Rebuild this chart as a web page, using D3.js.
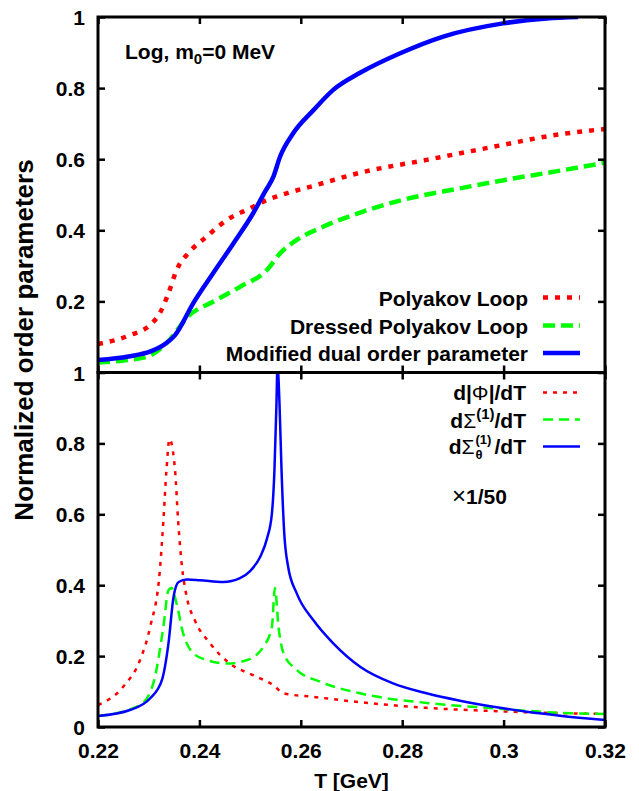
<!DOCTYPE html>
<html><head><meta charset="utf-8">
<script src="https://cdn.jsdelivr.net/npm/d3@7"></script>
<style>
html,body{margin:0;padding:0;background:#fff;}
text{font-family:"Liberation Sans",Arial,Helvetica,sans-serif;font-weight:bold;fill:#000;}
</style></head>
<body><svg id="c" width="639" height="791"></svg>
<script>
// ---------- data ----------
const xTicks = [0.22, 0.24, 0.26, 0.28, 0.30, 0.32];
const xTickLabels = ["0.22", "0.24", "0.26", "0.28", "0.3", "0.32"];
const topYTicks = [0.2, 0.4, 0.6, 0.8, 1];
const topYTickLabels = ["0.2", "0.4", "0.6", "0.8", "1"];
const botYTicks = [0, 0.2, 0.4, 0.6, 0.8, 1];
const botYTickLabels = ["0", "0.2", "0.4", "0.6", "0.8", "1"];

// top panel
const plT = [0.22,0.2263,0.2303,0.2322,0.2339,0.2355,0.2381,0.2414,0.2454,0.25,0.2533,0.2572,0.2625,0.2717,0.2848,0.298,0.3111,0.32];
const plV = [0.08,0.105,0.134,0.167,0.223,0.288,0.34,0.382,0.429,0.462,0.485,0.504,0.525,0.562,0.598,0.635,0.67,0.685];
const dplT = [0.22,0.225,0.2296,0.2335,0.2381,0.2427,0.248,0.2533,0.2559,0.2592,0.2644,0.2717,0.2802,0.2914,0.30,0.31,0.32];
const dplV = [0.028,0.034,0.044,0.082,0.162,0.199,0.241,0.288,0.335,0.373,0.41,0.45,0.486,0.518,0.541,0.565,0.59];
const mdT = [0.22,0.226,0.2305,0.2329,0.2352,0.2388,0.2427,0.2467,0.2506,0.253,0.2546,0.2559,0.2585,0.2625,0.2664,0.2717,0.2796,0.2881,0.2999,0.3085,0.3147];
const mdV = [0.035,0.045,0.06,0.077,0.105,0.195,0.279,0.363,0.448,0.51,0.551,0.607,0.673,0.738,0.795,0.843,0.898,0.945,0.982,0.996,1.0];

// bottom panel
const dPhiT = [0.22,0.225,0.2283,0.2303,0.2322,0.2329,0.2335,0.2341,0.2352,0.2358,0.2365,0.2375,0.2391,0.2421,0.246,0.2506,0.2546,0.2566,0.2625,0.2717,0.2848,0.298,0.3111,0.32];
const dPhiV = [0.062,0.114,0.189,0.283,0.442,0.583,0.724,0.812,0.724,0.583,0.461,0.367,0.301,0.236,0.179,0.146,0.118,0.095,0.085,0.07,0.054,0.045,0.039,0.037];
const dSigT = [0.22,0.2283,0.2309,0.2329,0.2339,0.2345,0.2355,0.2368,0.2388,0.2414,0.2454,0.2494,0.2526,0.2543,0.2549,0.2556,0.2566,0.2592,0.2638,0.2717,0.2848,0.298,0.3111,0.32];
const dSigV = [0.031,0.062,0.123,0.283,0.386,0.392,0.348,0.264,0.208,0.189,0.179,0.189,0.226,0.283,0.392,0.283,0.208,0.161,0.128,0.095,0.068,0.053,0.04,0.037];
const dSigThT = [0.22,0.2263,0.2303,0.2326,0.2339,0.2349,0.2359,0.2375,0.2401,0.2447,0.248,0.25,0.252,0.2533,0.2543,0.2548,0.2552,0.2554,0.2558,0.2562,0.2567,0.2575,0.2592,0.2625,0.2664,0.2717,0.2782,0.2848,0.2914,0.298,0.3046,0.3111,0.32];
const dSigThV = [0.031,0.048,0.081,0.132,0.236,0.367,0.409,0.416,0.414,0.409,0.42,0.44,0.48,0.53,0.602,0.724,0.912,1.02,0.912,0.724,0.555,0.452,0.377,0.301,0.236,0.17,0.123,0.095,0.074,0.057,0.043,0.032,0.02];

// ---------- drawing ----------
const svg = d3.select("#c");
const L = 98, R = 605;
const x = d3.scaleLinear().domain([0.22, 0.32]).range([L, R]);
const yTop = d3.scaleLinear().domain([0, 1]).range([372.5, 17]);
const yBot = d3.scaleLinear().domain([0, 1]).range([727, 372.5]);

const RED = "#ff0000", GREEN = "#00ff00", BLUE = "#0000ff";

const defs = svg.append("defs");
defs.append("clipPath").attr("id", "clipTop").append("rect")
  .attr("x", L).attr("y", yTop(1)).attr("width", R - L).attr("height", yTop(0) - yTop(1));
defs.append("clipPath").attr("id", "clipBot").append("rect")
  .attr("x", L).attr("y", yBot(1)).attr("width", R - L).attr("height", yBot(0) - yBot(1));

function drawLine(g, ys, T, V, color, w, dash) {
  const pts = T.map((t, i) => [t, V[i]]);
  const line = d3.line().x(d => x(d[0])).y(d => ys(d[1])).curve(d3.curveMonotoneX);
  g.append("path").attr("d", line(pts)).attr("fill", "none")
    .attr("stroke", color).attr("stroke-width", w)
    .attr("stroke-dasharray", dash || null).attr("stroke-linejoin", "round");
}

const gTop = svg.append("g").attr("clip-path", "url(#clipTop)");
drawLine(gTop, yTop, plT, plV, RED, 4.5, "5,7");
drawLine(gTop, yTop, dplT, dplV, GREEN, 4.5, "12,6");
drawLine(gTop, yTop, mdT, mdV, BLUE, 4.5);

const gBot = svg.append("g").attr("clip-path", "url(#clipBot)");
drawLine(gBot, yBot, dPhiT, dPhiV, RED, 2.5, "4,6");
drawLine(gBot, yBot, dSigT, dSigV, GREEN, 2.5, "10,6");
drawLine(gBot, yBot, dSigThT, dSigThV, BLUE, 2.5);

// axes (inward ticks)
function axes(ys, yt, ytl, showX) {
  const top = ys(1), bot = ys(0);
  const tick = 7;
  const ax = svg.append("g");
  const xb = ax.append("g").attr("transform", `translate(0,${bot})`)
    .call(d3.axisBottom(x).tickValues(xTicks).tickSize(-tick).tickFormat((d, i) => showX ? xTickLabels[i] : ""));
  const xt = ax.append("g").attr("transform", `translate(0,${top})`)
    .call(d3.axisTop(x).tickValues(xTicks).tickSize(-tick).tickFormat(""));
  const yl = ax.append("g").attr("transform", `translate(${L},0)`)
    .call(d3.axisLeft(ys).tickValues(yt).tickSize(-tick).tickFormat((d, i) => ytl[i]));
  const yr = ax.append("g").attr("transform", `translate(${R},0)`)
    .call(d3.axisRight(ys).tickValues(yt).tickSize(-tick).tickFormat(""));
  ax.selectAll(".domain").remove();
  ax.selectAll(".tick line").attr("stroke", "#000").attr("stroke-width", 2.5);
  ax.selectAll("text").attr("font-size", 21).attr("font-family", null).attr("font-weight", "bold").attr("fill", "#000");
  yl.selectAll("text").attr("x", -13).attr("dy", "0.36em");
  xb.selectAll("text").attr("y", 16).attr("dy", "0.71em");
  svg.append("rect").attr("x", L).attr("y", top).attr("width", R - L).attr("height", bot - top)
    .attr("fill", "none").attr("stroke", "#000").attr("stroke-width", 3);
}
axes(yTop, topYTicks, topYTickLabels, false);
axes(yBot, botYTicks, botYTickLabels, true);

// axis titles
svg.append("text").attr("x", 351.5).attr("y", 788).attr("text-anchor", "middle")
  .attr("font-size", 21).text("T [GeV]");
svg.append("text").attr("transform", "translate(33,340) rotate(-90)").attr("text-anchor", "middle")
  .attr("font-size", 26).text("Normalized order parameters");

// label in top panel
const lab = svg.append("text").attr("x", 125).attr("y", 59).attr("font-size", 21);
lab.append("tspan").text("Log, m");
lab.append("tspan").attr("font-size", 15).attr("dy", 5).text("0");
lab.append("tspan").attr("dy", -5).text("=0 MeV");

// top legend
const topLeg = [
  {t: "Polyakov Loop", c: RED, d: "5,7"},
  {t: "Dressed Polyakov Loop", c: GREEN, d: "12,6"},
  {t: "Modified dual order parameter", c: BLUE, d: null}
];
const topLegY = [297.5, 325.5, 353];
topLeg.forEach((e, i) => {
  svg.append("text").attr("x", 528).attr("y", topLegY[i] + 8).attr("text-anchor", "end")
    .attr("font-size", 21).text(e.t);
  svg.append("line").attr("x1", 543).attr("x2", 580).attr("y1", topLegY[i]).attr("y2", topLegY[i])
    .attr("stroke", e.c).attr("stroke-width", 4.5).attr("stroke-dasharray", e.d);
});

// bottom legend
const botLegY = [392.5, 419.5, 446.5];
const botLegC = [RED, GREEN, BLUE];
const botLegD = ["4,6", "10,6", null];
const t1 = svg.append("text").attr("x", 526).attr("y", botLegY[0] + 7).attr("text-anchor", "end").attr("font-size", 21);
t1.append("tspan").text("d|");
t1.append("tspan").attr("font-weight", "normal").text("Φ");
t1.append("tspan").text("|/dT");
const t2 = svg.append("text").attr("x", 526).attr("y", botLegY[1] + 8).attr("text-anchor", "end").attr("font-size", 21);
t2.append("tspan").text("d");
t2.append("tspan").attr("font-weight", "normal").text("Σ");
t2.append("tspan").attr("font-size", 15).attr("dy", -9).text("(1)");
t2.append("tspan").attr("dy", 9).text("/dT");
// third entry: Σ with stacked θ subscript and (1) superscript, as separate pieces
const t3y = botLegY[2] + 7;
const t3b = svg.append("text").attr("x", 526).attr("y", t3y).attr("text-anchor", "end").attr("font-size", 21).text("/dT");
const t3w = t3b.node().getComputedTextLength();
const supX = 526 - t3w - 19;
svg.append("text").attr("x", supX).attr("y", t3y - 10).attr("font-size", 13).text("(1)");
svg.append("text").attr("x", supX).attr("y", t3y + 5).attr("font-size", 13).attr("font-weight", "normal").text("θ");
const t3a = svg.append("text").attr("x", supX - 1).attr("y", t3y).attr("text-anchor", "end").attr("font-size", 21);
t3a.append("tspan").text("d");
t3a.append("tspan").attr("font-weight", "normal").text("Σ");
botLegY.forEach((yy, i) => {
  svg.append("line").attr("x1", 543).attr("x2", 580).attr("y1", yy).attr("y2", yy)
    .attr("stroke", botLegC[i]).attr("stroke-width", 2.5).attr("stroke-dasharray", botLegD[i]);
});

const sc = svg.append("text").attr("x", 452).attr("y", 504).attr("font-size", 21);
sc.append("tspan").attr("font-weight", "normal").attr("font-size", 24).text("×");
sc.append("tspan").text("1/50");
</script>
</body></html>
